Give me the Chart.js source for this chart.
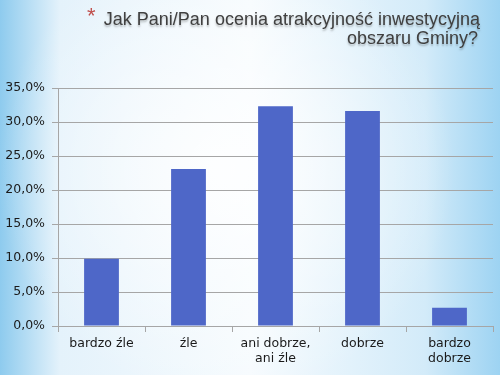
<!DOCTYPE html>
<html>
<head>
<meta charset="utf-8">
<script src="https://cdn.jsdelivr.net/npm/chart.js@4.4.1/dist/chart.umd.min.js"></script>
<style>
  html, body { margin: 0; padding: 0; }
  #wrap { width: 500px; height: 375px; }
</style>
</head>
<body>
<div id="wrap"><canvas id="c" width="500" height="375"></canvas></div>
<script>
// dane z wykresu
var categories = ['bardzo źle', 'źle', ['ani dobrze,', 'ani źle'], 'dobrze', ['bardzo', 'dobrze']];
var values = [9.9, 23.1, 32.3, 31.6, 2.7];
var titleLines = ['Jak Pani/Pan ocenia atrakcyjność inwestycyjną', 'obszaru Gminy?'];

var ctx = document.getElementById('c').getContext('2d');

// tlo w stylu slajdu + tytul
var slide = {
    id: 'slide',
    beforeDraw: function (chart) {
        var c = chart.ctx, w = chart.width, h = chart.height;
        c.save();
        var g = c.createLinearGradient(0, 0, w, 0);
        g.addColorStop(0, '#8ecbee');
        g.addColorStop(0.12, '#e4f2fb');
        g.addColorStop(0.5, '#f6fbfe');
        g.addColorStop(0.85, '#d3ebf9');
        g.addColorStop(1, '#9dd3f2');
        c.fillStyle = g;
        c.fillRect(0, 0, w, h);
        var r = c.createRadialGradient(w * 0.45, h * 0.45, 10, w * 0.45, h * 0.45, 230);
        r.addColorStop(0, 'rgba(255,255,255,0.85)');
        r.addColorStop(1, 'rgba(255,255,255,0)');
        c.fillStyle = r;
        c.fillRect(0, 0, w, h);

        c.font = '22px "Liberation Sans"';
        c.fillStyle = '#c0504d';
        c.textAlign = 'left';
        c.fillText('*', 87, 23);

        c.font = '18px "Liberation Sans"';
        c.textAlign = 'right';
        c.fillStyle = '#404040';
        c.shadowColor = 'rgba(0,0,0,0.25)';
        c.shadowOffsetY = 2;
        c.shadowBlur = 2;
        c.fillText(titleLines[0], 480, 25);
        c.fillText(titleLines[1], 478, 44);
        c.restore();
    }
};

var chart = new Chart(ctx, {
    type: 'bar',
    data: {
        labels: categories,
        datasets: [{
            data: values,
            backgroundColor: '#4e67c8',
            barPercentage: 0.4,
            categoryPercentage: 1.0
        }]
    },
    options: {
        responsive: false,
        animation: false,
        layout: { padding: { top: 88, right: 7, left: 0, bottom: 0 } },
        plugins: {
            legend: { display: false },
            tooltip: { enabled: false }
        },
        scales: {
            x: {
                afterFit: function (s) { s.height = 49; },
                grid: { display: true, drawOnChartArea: false, offset: true, tickLength: 6, color: '#a6a6a6' },
                border: { display: true, color: '#a6a6a6' },
                ticks: {
                    color: '#1a1a1a',
                    padding: 4,
                    maxRotation: 0,
                    autoSkip: false,
                    font: { family: 'DejaVu Sans', size: 12.5 }
                }
            },
            y: {
                min: 0,
                max: 35,
                afterFit: function (s) { s.width = 58; },
                grid: { color: '#a6a6a6', tickLength: 6 },
                border: { display: true, color: '#a6a6a6' },
                ticks: {
                    stepSize: 5,
                    padding: 7,
                    color: '#1a1a1a',
                    font: { family: 'DejaVu Sans', size: 12.5 },
                    callback: function (v) { return v.toFixed(1).replace('.', ',') + '%'; }
                }
            }
        }
    },
    plugins: [slide]
});
</script>
</body>
</html>
